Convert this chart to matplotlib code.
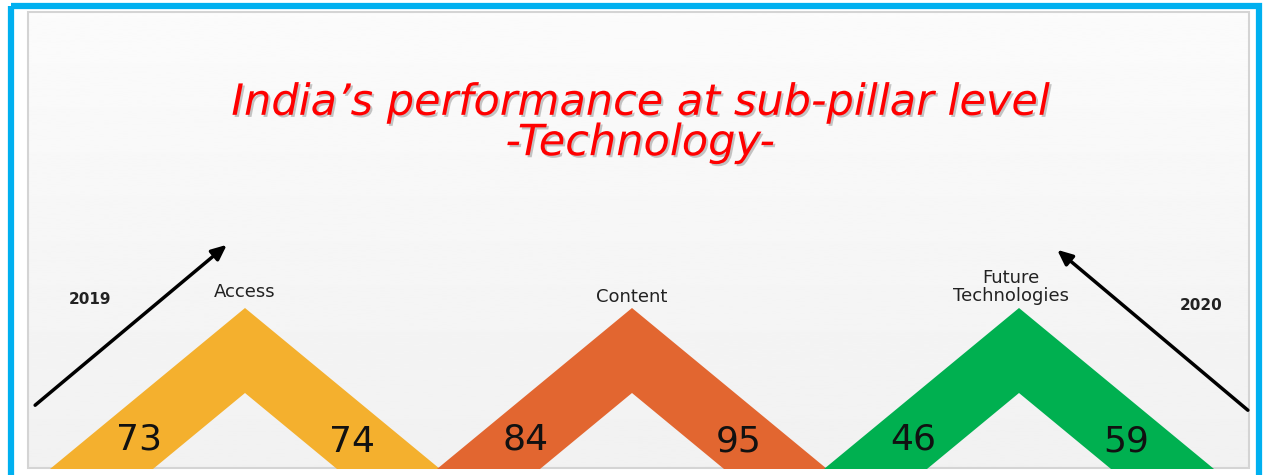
import matplotlib
matplotlib.use("Agg")
import matplotlib.pyplot as plt
import matplotlib.patheffects as pe
import numpy as np
from matplotlib.patches import Polygon, Rectangle

# sub-pillar scores, 2019 (left leg) and 2020 (right leg)
categories = ["Access", "Content", "Future\nTechnologies"]
scores_2019 = [73, 84, 46]
scores_2020 = [74, 95, 59]
colors = ["#F4B02E", "#E26630", "#00B050"]

title = "India\u2019s performance at sub-pillar level\n-Technology-"

W, H = 1265, 475
fig = plt.figure(figsize=(W / 100, H / 100), dpi=100)
ax = fig.add_axes([0, 0, 1, 1])
ax.set_xlim(0, W)
ax.set_ylim(H, 0)
ax.axis("off")
plt.rcParams["font.family"] = ["DejaVu Sans"]

# panel with a faint vertical gradient
grad = np.linspace(0.985, 0.945, 256).reshape(-1, 1)
ax.imshow(grad, cmap="gray", vmin=0, vmax=1, extent=[28, 1249, 468, 12],
          aspect="auto", zorder=0)
ax.add_patch(Rectangle((28, 12), 1221, 456, fill=False, ec="#d4d4d4", lw=1.5, zorder=1))

# blue frame
ax.add_patch(Rectangle((11, 5.5), 1248, 490, fill=False, ec="#00B0F0", lw=4.5,
                       zorder=5, clip_on=False))

shadow = [pe.withSimplePatchShadow(offset=(1.5, -1.5), shadow_rgbFace="0.45", alpha=0.4)]
ax.text(640, 123, title, color="#FF0000", fontsize=31, style="italic",
        ha="center", va="center", linespacing=0.95, path_effects=shadow)

# chevrons
x0, step = 245, 387
top, bottom, inner = 308, 469, 393
half_out, half_in = 195, 92
label_y = [292, 297, 287]
for i, cat in enumerate(categories):
    c = x0 + i * step
    pts = [(c - half_out, bottom), (c, top), (c + half_out, bottom),
           (c + half_in, bottom), (c, inner), (c - half_in, bottom)]
    ax.add_patch(Polygon(pts, closed=True, fc=colors[i], ec="none", zorder=2))
    ax.text(c - 106, 440, str(scores_2019[i]), fontsize=26, ha="center",
            va="center", color="#111111", zorder=3)
    ax.text(c + 107, 442, str(scores_2020[i]), fontsize=26, ha="center",
            va="center", color="#111111", zorder=3)
    ax.text(c + (0 if i < 2 else -8), label_y[i], cat, fontsize=13,
            ha="center", va="center", color="#222222", linespacing=0.95, zorder=3)

# year arrows
arrow = dict(arrowstyle="-|>,head_length=0.9,head_width=0.4", color="black", lw=2.5)
ax.annotate("", xy=(229, 243), xytext=(33, 407), arrowprops=arrow, zorder=4)
ax.annotate("", xy=(1055, 248), xytext=(1250, 412), arrowprops=arrow, zorder=4)
ax.text(90, 299, "2019", fontsize=11, fontweight="bold", ha="center", va="center",
        color="#222222")
ax.text(1201, 306, "2020", fontsize=11, fontweight="bold", ha="center", va="center",
        color="#222222")

fig.savefig("out.png", dpi=100, facecolor="white")
